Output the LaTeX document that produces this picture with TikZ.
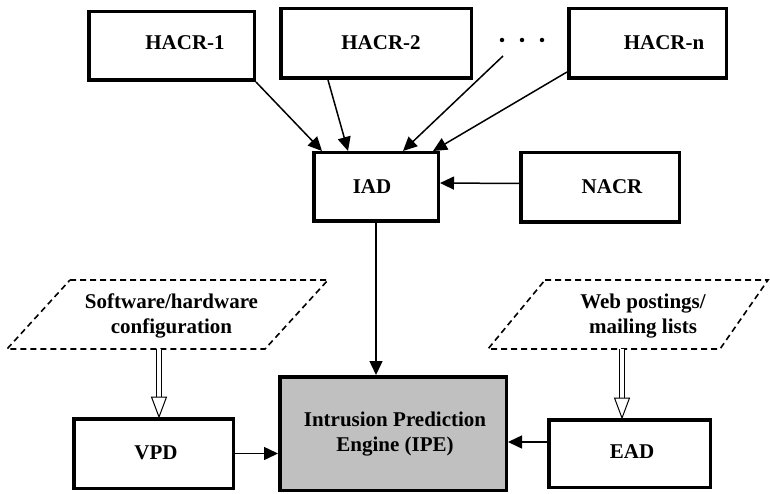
\documentclass[tikz,border=0pt]{standalone}
\usepackage{fontspec}
\setmainfont{Liberation Serif}
\usetikzlibrary{arrows.meta,calc}
\definecolor{ipegray}{RGB}{192,192,192}
\newcommand{\hollowarrow}[2]{%
  \draw[line width=1pt, double distance=4.5pt, shorten >=19pt] (#1) -- (#2);
  \draw[line width=1pt, fill=white, line join=miter] (#2) -- ++(-7.5,-20) -- ++(15,0) -- cycle;}
\begin{document}
\begin{tikzpicture}[x=1pt,y=-1pt,
  box/.style={draw, line width=3.5pt, inner sep=0pt},
  arr/.style={line width=1.5pt, -{Triangle[length=14pt,width=13pt]}},
  para/.style={draw, line width=1.6pt, dash pattern=on 6pt off 4pt},
  lbl/.style={font=\bfseries\fontsize{21}{25}\selectfont, align=center, inner sep=0pt},
  dotnode/.style={circle, fill, inner sep=0pt, minimum size=4.5pt},
]
\useasboundingbox (0,0) rectangle (770,494);

% boxes
\node[box, minimum width=165.5pt, minimum height=68.5pt] (h1) at (171.5,46) {};
\node[box, minimum width=190.5pt, minimum height=69.5pt] (h2) at (376,43.5) {};
\node[box, minimum width=157.5pt, minimum height=69.5pt] (hn) at (647.5,43.5) {};
\node[box, minimum width=124.5pt, minimum height=68.5pt] (iad) at (376,187) {};
\node[box, minimum width=158.5pt, minimum height=69.5pt] (nacr) at (600,187.5) {};
\node[box, minimum width=159.5pt, minimum height=69.5pt] (vpd) at (153.5,453.5) {};
\node[box, fill=ipegray, minimum width=226.5pt, minimum height=113.5pt] (ipe) at (393,433.5) {};
\node[box, minimum width=161.5pt, minimum height=67.5pt] (ead) at (629.5,453.5) {};

% labels
\node[lbl] (h1t) at (185,43) {HACR-1};
\node[lbl] (h2t) at (381,43) {HACR-2};
\node[lbl] (hnt) at (664,43) {HACR-n};
\node[lbl] (iadt) at (372,187) {IAD};
\node[lbl] (nacrt) at (612,187) {NACR};
\node[lbl] (vpdt) at (156,453) {VPD};
\node[lbl] (ipet) at (395,434) {Intrusion Prediction\\Engine (IPE)};
\node[lbl] (eadt) at (632,452) {EAD};

% dots
\node[dotnode] (dt1) at (502,40) {};
\node[dotnode] (dt2) at (522,40) {};
\node[dotnode] (dt3) at (542,40) {};

% parallelograms
\draw[para] (70,280) -- (328,280) -- (265,349) -- (7,349) -- cycle;
\draw[para] (545,280) -- (768,280) -- (720,349) -- (488,349) -- cycle;
\node[lbl] (sw) at (171.5,316) {Software/hardware\\configuration};
\node[lbl] (web) at (643,316) {Web postings/\\mailing lists};

% arrow end points
\coordinate (t1) at (322,151);
\coordinate (s2) at (328,80);
\coordinate (t2) at (348,151);
\coordinate (s3) at (503,56);
\coordinate (t3) at (403,151);
\coordinate (s4) at (567,72);
\coordinate (t4) at (433,151);

\draw[arr] (h1.south east) -- (t1);
\draw[arr] (s2) -- (t2);
\draw[arr] (s3) -- (t3);
\draw[arr] (s4) -- (t4);
\draw[arr] ([yshift=4pt]nacr.west) -- ([yshift=4pt]iad.east);
\draw[arr] (iad.south) -- (iad.south |- ipe.north);
\draw[arr] (vpd.east) -- (vpd.east -| ipe.west);
\draw[arr] ([yshift=11.5pt]ead.west) -- ([yshift=11.5pt]ead.west -| ipe.east);

% hollow double arrows
\coordinate (d1s) at (159,349);
\coordinate (d1e) at (159,417);
\coordinate (d2s) at (622,349);
\coordinate (d2e) at (622,418);
\hollowarrow{d1s}{d1e}
\hollowarrow{d2s}{d2e}
\end{tikzpicture}
\end{document}
